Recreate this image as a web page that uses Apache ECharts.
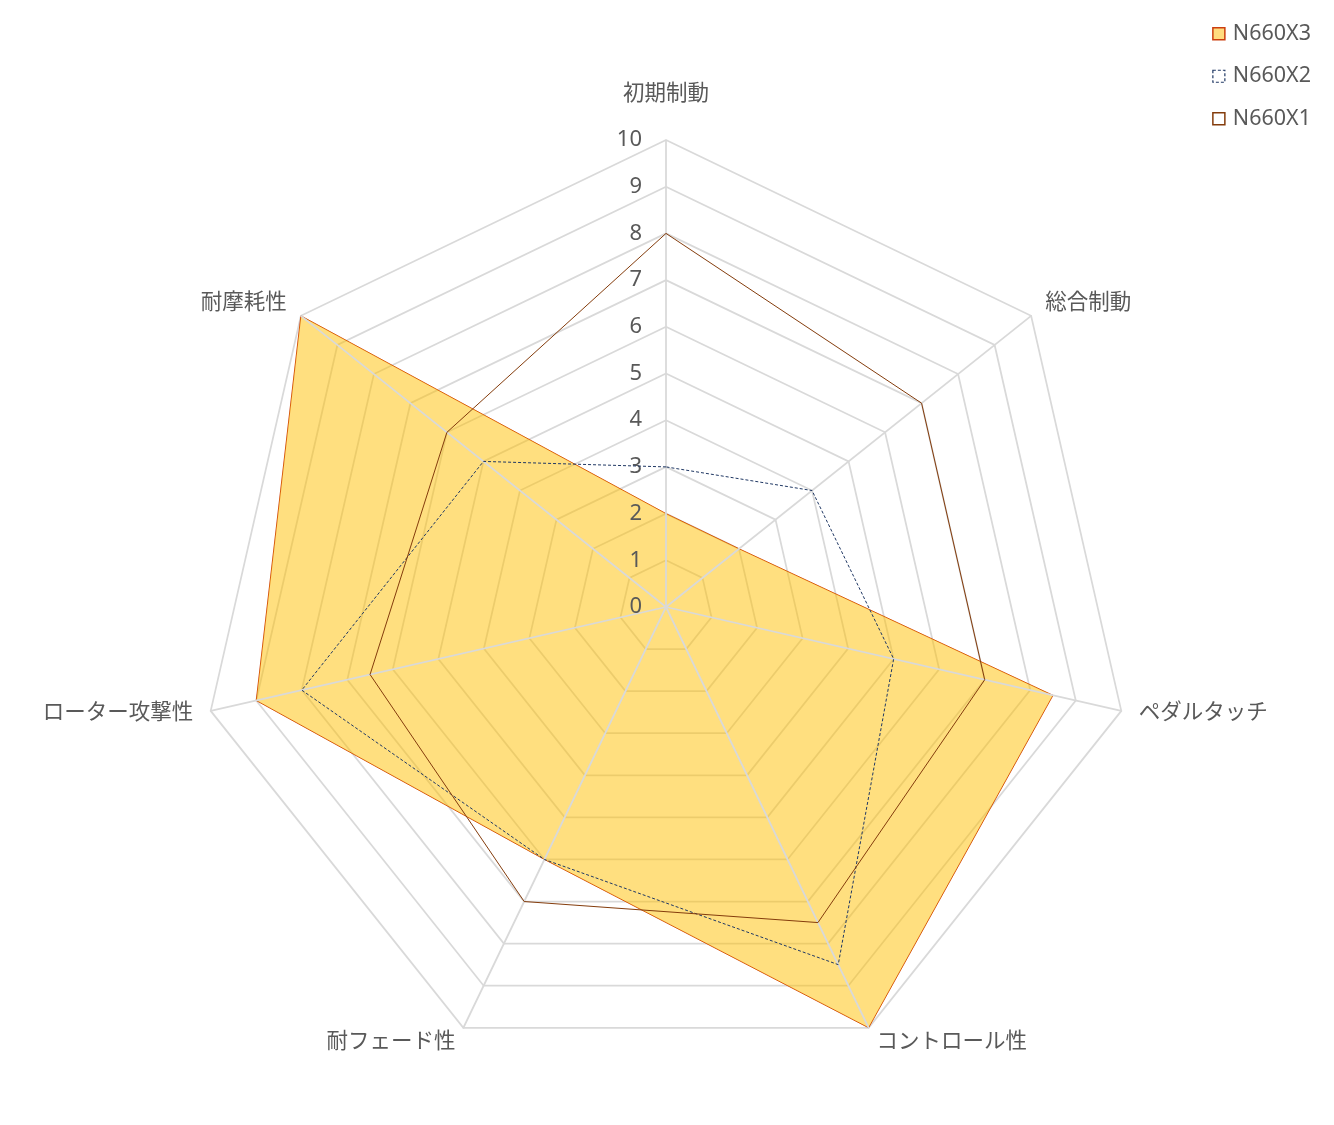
<!DOCTYPE html>
<html><head><meta charset="utf-8">
<script src="https://cdn.jsdelivr.net/npm/echarts@6/dist/echarts.min.js"></script>
<style>html,body{margin:0;padding:0;background:#fff}#c{width:1334px;height:1125px}</style>
</head><body><div id="c"></div>
<script>
// categories in clockwise order from top
const categories = ['初期制動', '総合制動', 'ペダルタッチ', 'コントロール性', '耐フェード性', 'ローター攻撃性', '耐摩耗性'];
const seriesNames = ['N660X3', 'N660X2', 'N660X1'];
const x3 = [2, 2, 8.5, 10, 6, 9, 10];
const x2 = [3, 4, 5, 8.5, 6, 8, 5];
const x1 = [8, 7, 7, 7.5, 7, 6.5, 6];
const tickMax = 10;

// ECharts places indicators counter-clockwise; reorder to get clockwise placement
const order = [0, 6, 5, 4, 3, 2, 1];
const reorder = a => order.map(i => a[i]);
const indicators = reorder(categories).map(n => ({ name: n, min: 0, max: tickMax }));

const FONT = '"Noto Sans", "Noto Sans CJK JP", sans-serif';
const TXT = '#595959';
const GRID = '#D9D9D9';
const center = [666, 607];
const radius = 467;
const FS = 21.5;
const X3_LINE = '#CC3E0E';

const chart = echarts.init(document.getElementById('c'));
chart.setOption({
  backgroundColor: '#fff',
  animation: false,
  legend: {
    orient: 'vertical', right: 18, top: 18, itemGap: 21,
    itemWidth: 12, itemHeight: 12, icon: 'rect',
    textStyle: { color: TXT, fontSize: FS, fontFamily: FONT, padding: [0, 0, 0, 3] },
    data: [
      { name: 'N660X3', itemStyle: { color: '#FFDC7F', borderColor: X3_LINE, borderWidth: 1.5 } },
      { name: 'N660X2', itemStyle: { color: '#fff', borderColor: '#203864', borderWidth: 1.2, borderType: [3, 2] } },
      { name: 'N660X1', itemStyle: { color: '#fff', borderColor: '#843C0C', borderWidth: 1.5 } }
    ]
  },
  radar: [
    {
      z: 1, center, radius, startAngle: 90, splitNumber: 10, shape: 'polygon',
      indicator: indicators,
      axisName: {
        color: TXT, fontSize: FS, fontFamily: FONT,
        formatter: (n) => n === categories[0] ? '{t|' + n + '}' : '{s|' + n + '}',
        rich: {
          t: { color: TXT, fontSize: FS, fontFamily: FONT, padding: [0, 0, 17, 0] },
          s: { color: TXT, fontSize: FS, fontFamily: FONT, padding: [0, 0, 4, 0] }
        }
      },
      nameGap: 18,
      splitLine: { lineStyle: { color: GRID, width: 1.75 } },
      splitArea: { show: false },
      axisLine: { show: false },
      axisTick: { show: false },
      axisLabel: { show: false }
    },
    {
      z: 3, center, radius, startAngle: 90, splitNumber: 10, shape: 'polygon',
      indicator: indicators,
      axisName: { show: false },
      splitLine: { show: false },
      splitArea: { show: false },
      axisLine: { show: true, lineStyle: { color: GRID, width: 1.75 } },
      axisTick: { show: false },
      axisLabel: { show: false }
    },
    {
      z: 3, center, radius, startAngle: 90, splitNumber: 10, shape: 'polygon',
      indicator: [{ name: '', min: 0, max: tickMax }],
      axisName: { show: false },
      splitLine: { show: false },
      splitArea: { show: false },
      axisLine: { show: false },
      axisTick: { show: false },
      axisLabel: { show: true, color: TXT, fontSize: 22, fontFamily: FONT, margin: 24 }
    }
  ],
  series: [
    {
      name: seriesNames[0], type: 'radar', radarIndex: 0, z: 2, symbol: 'none',
      lineStyle: { color: X3_LINE, width: 1 },
      itemStyle: { color: '#FFDC7F' },
      areaStyle: { color: 'rgba(255,192,0,0.5)', opacity: 1 },
      data: [{ name: seriesNames[0], value: reorder(x3) }]
    },
    {
      name: seriesNames[1], type: 'radar', radarIndex: 0, z: 4, symbol: 'none',
      lineStyle: { color: '#203864', width: 1, type: [3, 2] },
      itemStyle: { color: '#203864' },
      data: [{ name: seriesNames[1], value: reorder(x2) }]
    },
    {
      name: seriesNames[2], type: 'radar', radarIndex: 0, z: 4, symbol: 'none',
      lineStyle: { color: '#843C0C', width: 1 },
      itemStyle: { color: '#843C0C' },
      data: [{ name: seriesNames[2], value: reorder(x1) }]
    }
  ]
});
</script></body></html>
